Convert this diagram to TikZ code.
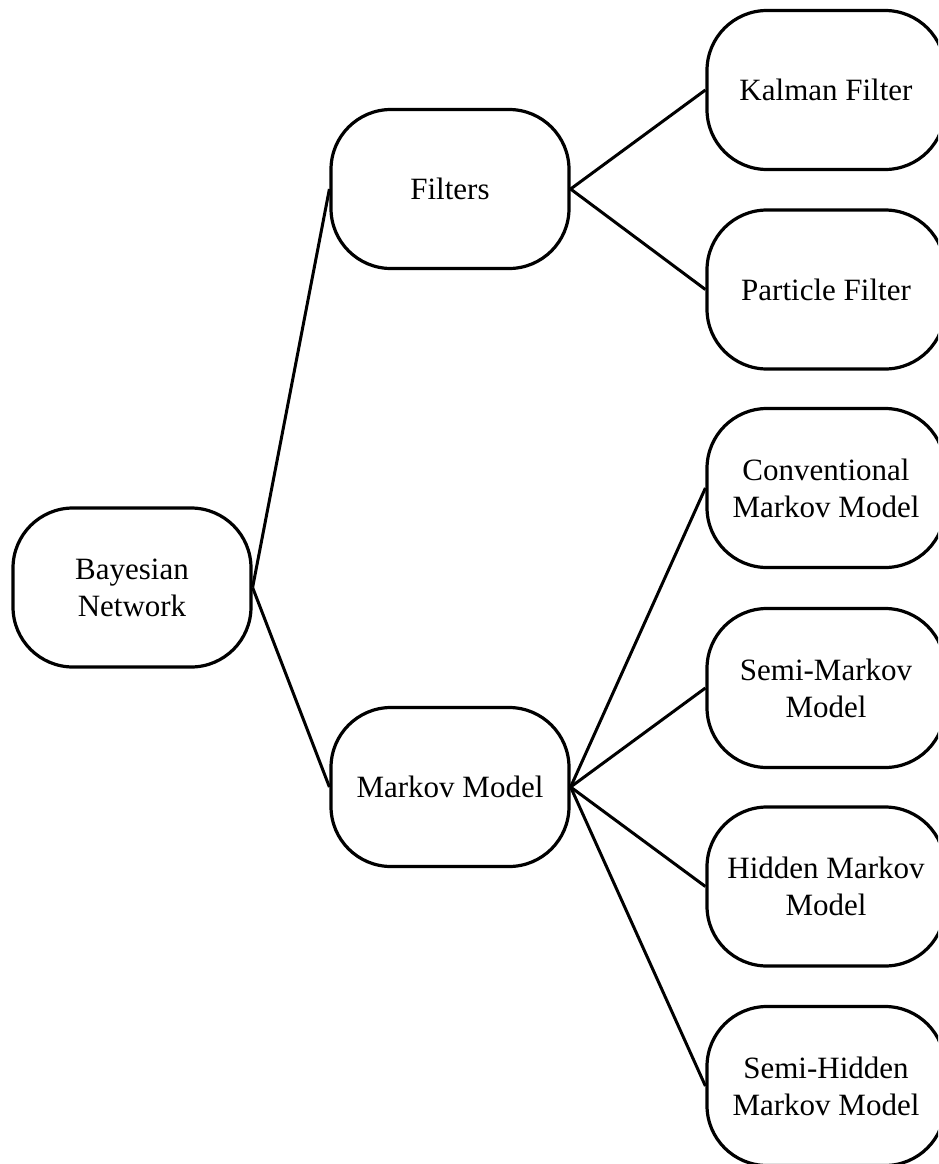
\documentclass[tikz,border=0pt]{standalone}
\usepackage{fontspec}
\setmainfont{Liberation Serif}
\begin{document}
\begin{tikzpicture}[x=1pt,y=-1pt,
  box/.style={draw=black, line width=3.2pt, rounded corners=60pt, minimum width=238pt, minimum height=159pt, align=center, inner sep=0pt, fill=white,
    font=\fontsize{31}{37}\selectfont},
  link/.style={draw=black, line width=3pt}]
\useasboundingbox (0,0) rectangle (938,1164);
\clip (0,0) rectangle (938,1164);
\fill[white] (0,0) rectangle (938,1164);
\node[box] (bn) at (132,587.5) {Bayesian\\Network};
\node[box] (fi) at (450,189) {Filters};
\node[box] (mm) at (450,787) {Markov Model};
\node[box] (kf) at (826,90) {Kalman Filter};
\node[box] (pf) at (826,289.5) {Particle Filter};
\node[box] (cm) at (826,488) {Conventional\\Markov Model};
\node[box] (sm) at (826,688) {Semi-Markov\\Model};
\node[box] (hm) at (826,886.5) {Hidden Markov\\Model};
\node[box] (sh) at (826,1086) {Semi-Hidden\\Markov Model};
\draw[link] (bn.east) -- (fi.west);
\draw[link] (bn.east) -- (mm.west);
\draw[link] (fi.east) -- (kf.west);
\draw[link] (fi.east) -- (pf.west);
\draw[link] (mm.east) -- (cm.west);
\draw[link] (mm.east) -- (sm.west);
\draw[link] (mm.east) -- (hm.west);
\draw[link] (mm.east) -- (sh.west);
\end{tikzpicture}
\end{document}
